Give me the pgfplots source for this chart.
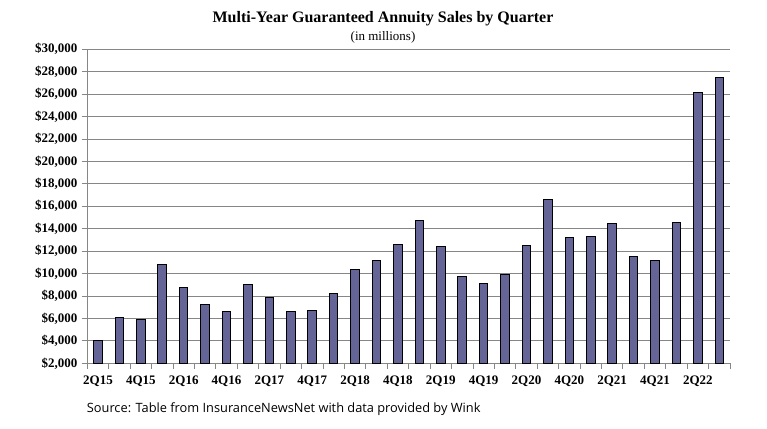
\documentclass[border=0pt]{standalone}
\usepackage{fontspec}
\setmainfont{Liberation Serif}
\newfontfamily\srcfont{Open Sans}
\usepackage{pgfplots}
\pgfplotsset{compat=1.18}
\definecolor{barfill}{RGB}{100,100,150}
\definecolor{gridgray}{RGB}{134,134,134}
\pgfplotstableread{
x y
0 3990
1 6090
2 5910
3 10800
4 8800
5 7250
6 6620
7 9070
8 7910
9 6620
10 6710
11 8180
12 10360
13 11160
14 12620
15 14710
16 12440
17 9730
18 9160
19 9910
20 12530
21 16620
22 13200
23 13290
24 14450
25 11560
26 11160
27 14540
28 26180
29 27500
}\sales
\begin{document}
\begin{tikzpicture}
\useasboundingbox (0,0) rectangle (767bp,429bp);
\node[font=\fontsize{16bp}{19bp}\selectfont\bfseries] at (383bp,410bp) {Multi-Year Guaranteed Annuity Sales by Quarter};
\node[font=\fontsize{13bp}{15bp}\selectfont] at (383bp,391.5bp) {(in millions)};
\node[font=\srcfont\fontsize{12.8bp}{15bp}\selectfont, anchor=west, inner sep=0pt] at (86.7bp,20bp) {Source: Table from InsuranceNewsNet with data provided by Wink};
\begin{axis}[
  at={(87.3bp,65.7bp)}, anchor=south west,
  scale only axis, width=642.7bp, height=314bp,
  ymin=2000, ymax=30000,
  xmin=-0.5, xmax=29.5,
  scaled y ticks=false,
  axis x line*=bottom, axis y line*=left,
  axis line style={gridgray, line width=0.8bp},
  ytick={2000,4000,...,30000},
  yticklabels={{\$2,000},{\$4,000},{\$6,000},{\$8,000},{\$10,000},{\$12,000},{\$14,000},{\$16,000},{\$18,000},{\$20,000},{\$22,000},{\$24,000},{\$26,000},{\$28,000},{\$30,000}},
  xtick={0,2,...,28},
  xticklabels={2Q15,4Q15,2Q16,4Q16,2Q17,4Q17,2Q18,4Q18,2Q19,4Q19,2Q20,4Q20,2Q21,4Q21,2Q22},
  minor xtick={-0.5,0.5,...,29.5},
  tick align=outside,
  x tick style={draw=none},
  minor x tick style={draw=gridgray, line width=0.8bp},
  minor tick length=5.5bp,
  y tick style={draw=gridgray, line width=0.8bp},
  major tick length=5.5bp,
  ymajorgrids,
  grid style={gridgray, line width=0.8bp},
  ticklabel style={font=\fontsize{13bp}{15bp}\selectfont\bfseries},
  xticklabel style={yshift=-4bp},
  yticklabel style={xshift=-1bp},
  clip=true,
]
\addplot[ybar, bar width=0.4, fill=barfill, draw=black, line width=1bp] table[x=x,y=y] {\sales};
\end{axis}
\end{tikzpicture}
\end{document}
